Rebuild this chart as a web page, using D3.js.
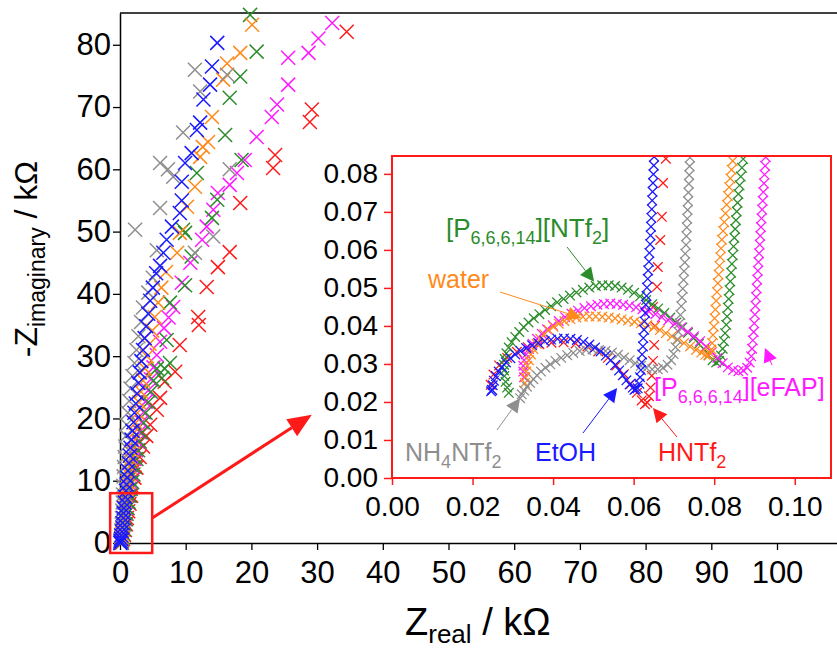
<!DOCTYPE html>
<html>
<head>
<meta charset="utf-8">
<script src="https://cdn.jsdelivr.net/npm/d3@7"></script>
<style>
body { margin: 0; background: #fff; }
text { font-family: "Liberation Sans", Arial, Helvetica, sans-serif; }
</style>
</head>
<body>
<script>
// ---- main plot data, kOhm  [Zreal, -Zimag]
var mainRed = [[0.3,0.05],[0.45,0.6],[0.6,1.3],[0.75,2.1],[0.9,3],[1.05,4],[1.25,5.1],[1.45,6.3],[1.7,7.6],[1.95,9],[2.2,10.5],[2.5,12.1],[3,13.8],[3.5,15.5],[4,17.2],[4.6,19],[5.6,21.4],[6.1,23.3],[6.8,25.9],[8.4,27.5],[9.1,31.8],[11.9,36.3],[12,35],[13.2,41.1],[14.9,44.3],[16.7,46.7],[18.3,54.6],[23.3,60.2],[23.6,62.3],[28.9,67.6],[29.2,69.6],[34.5,82.1]];
var mainMagenta = [[0.15,0.05],[0.2,0.4],[0.3,0.9],[0.4,1.5],[0.5,2.2],[0.6,3],[0.7,3.8],[0.85,4.7],[1,5.6],[1.15,6.6],[1.3,7.6],[1.45,8.7],[1.6,9.8],[1.8,11],[2,12.2],[2.2,13.5],[2.45,14.9],[2.7,16.3],[3,17.8],[3.3,19.4],[3.6,21],[3.9,22.7],[4.3,24.5],[4.7,26.3],[5.1,28.2],[5.6,30.2],[6.1,32.3],[6.7,34.5],[7.4,36.2],[8.1,37.9],[9.4,41.8],[10.7,45],[12.5,48.7],[13.2,50.8],[14.2,53.5],[14.9,56.2],[16.7,57.5],[17.8,59.4],[19,61.5],[20.8,65.2],[23.1,68.4],[23.9,70.4],[25.6,73.6],[25.6,77.9],[28.7,78.7],[30.2,81],[32.3,83.5]];
var mainGreen = [[0.2,0.05],[0.3,0.4],[0.4,0.9],[0.5,1.5],[0.6,2.2],[0.75,3],[0.9,3.8],[1,4.7],[1.15,5.6],[1.3,6.6],[1.5,7.6],[1.65,8.7],[1.85,9.8],[2.05,11],[2.25,12.2],[2.5,13.5],[2.75,14.9],[3,16.3],[3.3,17.7],[3.6,19.3],[3.9,20.9],[4.3,22.6],[4.7,24.3],[5.1,26.1],[5.6,28],[6.4,26.5],[6.8,28],[7.1,32.6],[7.6,28.9],[7.6,38.6],[9.9,41.4],[10.9,46],[9.6,50.3],[9.9,49.8],[14,52.2],[14.8,55.1],[11.7,59.4],[18.5,61.5],[16,65.5],[16.7,71.5],[18.3,74.9],[20.8,78.9],[19.8,84.8]];
var mainOrange = [[0.1,0.05],[0.15,0.4],[0.2,0.9],[0.3,1.5],[0.35,2.2],[0.45,3],[0.5,3.8],[0.6,4.7],[0.7,5.6],[0.8,6.6],[0.9,7.6],[1,8.7],[1.15,9.8],[1.3,11],[1.45,12.2],[1.6,13.5],[1.8,14.9],[2,16.3],[2.2,17.8],[2.4,19.3],[2.65,20.9],[2.9,22.6],[3.2,24.3],[3.5,26.1],[3.8,28],[4.1,30],[4.5,32],[4.9,34.1],[5.3,36.3],[5.8,38.6],[6.3,41],[7,43.5],[8.7,46.6],[9.1,49.8],[10.2,54],[11.4,57.2],[12.2,62],[12.6,63.6],[13.4,64.4],[14,68.4],[15.7,74.4],[16.3,77],[18.3,78.7],[20.1,83.2]];
var mainGray = [[0.05,0.05],[0.1,0.5],[0.15,1.2],[0.2,2],[0.25,3],[0.3,4],[0.35,5.2],[0.4,6.5],[0.45,7.8],[0.5,9.2],[0.55,10.7],[0.6,12.2],[0.7,13.8],[0.8,15.5],[0.9,17.2],[1,19],[1.2,20.9],[1.4,22.8],[1.6,24.8],[1.9,26.8],[2.2,28.9],[2.5,31],[2.8,33.2],[3.2,35.5],[3.5,37.8],[4.3,40.2],[5,42.6],[5.6,47],[6.1,53.8],[6.1,61],[7.3,60],[8.1,58.8],[9.6,65.9],[2.3,50.3],[11.4,76],[12.2,72.5],[11.4,46.6],[14.2,49.2],[16.7,60],[16.3,75.2]];
var mainBlue = [[0.05,0.02],[0.1,0.3],[0.15,0.7],[0.2,1.2],[0.3,1.8],[0.35,2.5],[0.4,3.2],[0.5,4],[0.55,4.8],[0.6,5.6],[0.7,6.5],[0.8,7.4],[0.9,8.4],[1,9.4],[1.1,10.5],[1.2,11.6],[1.35,12.8],[1.5,14],[1.6,15.3],[1.75,16.6],[1.9,18],[2.05,19.4],[2.2,20.9],[2.4,22.4],[2.6,24],[2.8,25.7],[3,27.4],[3.25,29.2],[3.5,31],[3.75,32.9],[4,34.8],[4.3,36.8],[4.6,38.9],[5,41],[5.5,43.3],[6.1,44.5],[6.6,46.6],[7.1,48.7],[7.9,50.8],[9.1,53],[9.4,55],[9.4,58],[9.9,61],[10.9,62.6],[11.7,66.3],[12.2,67.5],[12.7,71.2],[13.7,73.6],[14,76.5],[14.8,80.3]];

// ---- inset data, Ohm
var insetRed = [[24.5,24.5],[25.2,27.2],[26.6,29.6],[28.6,31.6],[31,33.2],[33.7,34.4],[36.6,35.2],[39.6,35.6],[42.6,35.7],[45.6,35.4],[48.5,34.6],[51.2,33.3],[53.6,31.6],[55.7,29.6],[57.6,27.3],[59.3,24.8],[60.8,22.4],[62,20.4],[62.8,19.4],[63.4,19.8],[63.8,21.5],[64.2,23.8],[64.5,26.9],[64.8,30.8],[65.1,35],[65.3,40],[64.8,45],[65.8,50.3],[66,55.5],[66.6,62.6],[67,68.7],[67.3,77.6],[68,84]];
var insetGreen = [[29,22.4],[28.6,23.8],[28.2,25.3],[27.9,26.8],[27.8,28.3],[27.8,29.8],[28,31.3],[28.4,32.8],[29,34.3],[29.7,35.7],[30.6,37.1],[31.6,38.4],[32.7,39.7],[33.9,40.9],[35.2,42],[36.6,43.1],[38,44.2],[39.5,45.2],[41,46.2],[42.6,47.1],[44.2,48],[45.8,48.8],[47.4,49.5],[49,50.1],[50.6,50.5],[52.2,50.7],[53.8,50.7],[55.4,50.5],[57,50.1],[58.6,49.5],[60.1,48.7],[61.6,47.8],[63.1,46.8],[64.6,45.7],[66.1,44.6],[67.6,43.4],[69.1,42.2],[70.6,40.9],[72.1,39.6],[73.5,38.2],[74.9,36.8],[76.2,35.3],[77.5,33.8],[78.6,32.3],[79.6,31],[80.5,30.4],[81.2,30.8],[81.7,32.2],[82.1,34],[82.4,36],[82.7,38.1],[83,40.3],[83.2,42.5],[83.4,44.8],[83.6,47.1],[83.8,49.4],[84,51.7],[84.2,54],[84.4,56.3],[84.6,58.6],[84.8,60.9],[85,63.2],[85.2,65.5],[85.4,67.8],[85.6,70.1],[85.8,72.4],[86,74.7],[86.3,77],[86.6,79.3],[86.9,81.6],[87.2,83.9]];
var insetMagenta = [[32.8,26.5],[32.6,28],[32.6,29.5],[32.8,31],[33.3,32.5],[34,33.9],[34.9,35.3],[36,36.6],[37.2,37.9],[38.5,39.1],[39.9,40.2],[41.4,41.3],[43,42.3],[44.6,43.2],[46.2,44],[47.8,44.7],[49.4,45.2],[51,45.6],[52.6,45.8],[54.2,45.9],[55.8,45.8],[57.4,45.6],[59,45.3],[60.6,44.9],[62.2,44.4],[63.8,43.8],[65.4,43.1],[67,42.3],[68.6,41.5],[70.2,40.6],[71.8,39.6],[73.4,38.5],[75,37.3],[76.5,36],[78,34.6],[79.4,33.1],[80.8,31.6],[82.1,30.2],[83.4,29.1],[84.7,28.4],[86,28.1],[87.2,28.3],[88.2,29],[88.8,30.4],[89.2,32],[89.4,34],[89.6,36.2],[89.8,38.4],[89.95,40.7],[90.1,43],[90.25,45.3],[90.4,47.6],[90.55,49.9],[90.7,52.2],[90.85,54.5],[91,56.8],[91.15,59.1],[91.3,61.4],[91.45,63.7],[91.6,66],[91.75,68.3],[91.9,70.6],[92.05,72.9],[92.2,75.2],[92.35,77.5],[92.5,79.8],[92.65,82.1],[92.8,84.4]];
var insetOrange = [[33,25],[33.1,26.5],[33.3,28],[33.6,29.5],[34,31],[34.5,32.5],[35.1,33.9],[35.9,35.3],[36.8,36.6],[37.8,37.8],[38.9,38.9],[40.1,39.8],[41.4,40.6],[42.8,41.3],[44.3,41.8],[45.8,42.2],[47.4,42.4],[49,42.5],[50.6,42.5],[52.2,42.4],[53.8,42.2],[55.4,42],[57,41.7],[58.6,41.4],[60.2,41.1],[61.8,40.7],[63.4,40.2],[65,39.6],[66.5,38.9],[68,38.1],[69.5,37.3],[71,36.4],[72.5,35.5],[74,34.6],[75.5,33.7],[76.8,33],[77.8,32.4],[78.6,32.2],[79,32.8],[79.3,33.8],[79.5,35.5],[79.7,37.6],[79.9,39.8],[80.1,42],[80.3,44.3],[80.5,46.6],[80.7,48.9],[80.9,51.2],[81.1,53.5],[81.3,55.8],[81.5,58.1],[81.7,60.4],[81.9,62.7],[82.2,65],[82.5,67.3],[82.8,69.6],[83.1,71.9],[83.4,74.2],[83.7,76.5],[84,78.8],[84.3,81.1],[84.6,83.4]];
var insetGray = [[31.8,21],[32.2,22],[32.8,23],[33.5,24],[34.3,25],[35.1,26],[36,27],[37,28],[38.1,29],[39.3,29.9],[40.6,30.8],[42,31.6],[43.5,32.3],[45,32.9],[46.6,33.4],[48.2,33.7],[49.8,33.8],[51.4,33.7],[53,33.4],[54.6,33],[56.1,32.4],[57.6,31.7],[59,31],[60.4,30.2],[61.8,29.5],[63.2,28.9],[64.6,28.6],[66,28.6],[67.3,29],[68.4,29.8],[69.3,31],[69.9,32.6],[70.4,34.4],[70.8,36.4],[71.1,38.5],[71.4,40.7],[71.6,42.9],[71.8,45.2],[72,47.5],[72.2,49.8],[72.4,52.1],[72.5,54.4],[72.7,56.7],[72.8,59],[73,61.3],[73.1,63.6],[73.2,65.9],[73.3,68.2],[73.4,70.5],[73.5,72.8],[73.6,75.1],[73.7,77.4],[73.8,79.7],[73.9,82],[74,84.3]];
var insetBlue = [[24.6,22.8],[24.9,23.1],[24.8,23.2],[25,24.4],[25.3,25.6],[25.8,26.8],[26.5,28],[27.3,29.2],[28.3,30.4],[29.4,31.5],[30.6,32.5],[31.9,33.4],[33.3,34.2],[34.8,34.9],[36.3,35.5],[37.9,36],[39.5,36.4],[41.1,36.6],[42.7,36.7],[44.3,36.6],[45.9,36.3],[47.5,35.8],[49,35.1],[50.4,34.3],[51.8,33.3],[53.1,32.2],[54.3,31],[55.4,29.7],[56.4,28.3],[57.3,27],[58.2,25.7],[59,24.6],[59.8,23.8],[60.2,23.2],[60.5,23.4],[61,23.6],[61.4,24.8],[61.6,26.5],[61.8,28.4],[62,30.4],[62.1,32.5],[62.3,34.6],[62.4,36.8],[62.6,39],[62.7,41.2],[62.9,43.4],[63,45.6],[63.2,47.9],[63.3,50.1],[63.5,52.4],[63.6,54.6],[63.8,56.9],[63.9,59.2],[64.1,61.5],[64.2,63.8],[64.3,66.1],[64.4,68.4],[64.5,70.7],[64.6,73],[64.7,75.3],[64.8,77.6],[64.9,79.9],[65,82.2],[65.1,84.5]];

var colors = { red: "#ff1a1a", magenta: "#ff1aff", green: "#2b8c2b", orange: "#ff8a1c", gray: "#8e8e8e", blue: "#1a1aff" };

var mainTicksX = [0,10,20,30,40,50,60,70,80,90,100];
var mainTicksY = [0,10,20,30,40,50,60,70,80];
var insetTicksX = [0,0.02,0.04,0.06,0.08,0.10];
var insetTicksY = [0,0.01,0.02,0.03,0.04,0.05,0.06,0.07,0.08];

var width = 837;
var height = 650;

var svg = d3.select("body")
    .append("svg")
    .attr("width", width)
    .attr("height", height);

// ----- main axes
var x = d3.scaleLinear().domain([0, 110]).range([120, 842.7]);
var y = d3.scaleLinear().domain([0, 85.1]).range([543, 13]);

var minorX = d3.range(0, 111, 2);
var minorY = d3.range(0, 85, 2);

var gx = svg.append("g").attr("transform", "translate(0,543)");
gx.call(d3.axisBottom(x).tickValues(minorX).tickSize(4).tickSizeOuter(0).tickFormat(""));
gx.call(d3.axisBottom(x).tickValues(mainTicksX).tickSize(7).tickSizeOuter(0).tickPadding(11).tickFormat(d3.format("d")));

var gy = svg.append("g").attr("transform", "translate(120,0)");
gy.call(d3.axisLeft(y).tickValues(minorY).tickSize(4).tickSizeOuter(0).tickFormat(""));
gy.call(d3.axisLeft(y).tickValues(mainTicksY).tickSize(7).tickSizeOuter(0).tickPadding(2).tickFormat(d3.format("d")));

svg.selectAll(".domain").attr("stroke", "#000").attr("stroke-width", 1.5);
svg.selectAll(".tick line").attr("stroke", "#000").attr("stroke-width", 1.3);
svg.selectAll(".tick text").attr("font-size", 31).attr("fill", "#000")
    .attr("font-family", "Liberation Sans, Arial, sans-serif");

// top border
svg.append("line").attr("x1", 120).attr("x2", width).attr("y1", 13).attr("y2", 13)
    .attr("stroke", "#000").attr("stroke-width", 1.5);

function cross(s) {
    return "M" + (-s) + "," + (-s) + "L" + s + "," + s + "M" + (-s) + "," + s + "L" + s + "," + (-s);
}

var mainSeries = [
    [mainRed, colors.red], [mainMagenta, colors.magenta], [mainGreen, colors.green],
    [mainOrange, colors.orange], [mainGray, colors.gray], [mainBlue, colors.blue]
];

mainSeries.forEach(function(s) {
    svg.append("g").selectAll("path")
        .data(s[0]).enter().append("path")
        .attr("d", cross(7))
        .attr("transform", function(d) { return "translate(" + x(d[0]) + "," + y(d[1]) + ")"; })
        .attr("fill", "none")
        .attr("stroke", s[1])
        .attr("stroke-width", 1.5);
});

// axis titles
function subText(g, parts, size, subSize, shift) {
    var t = g.append("text").attr("font-size", size);
    var prevSub = false;
    parts.forEach(function(p) {
        var ts = t.append("tspan").text(p[0]);
        if (p[1]) {
            ts.attr("font-size", subSize).attr("dy", shift);
            prevSub = true;
        } else if (prevSub) {
            ts.attr("dy", -shift);
            prevSub = false;
        }
    });
    return t;
}

subText(svg, [["Z", 0], ["real", 1], [" / k\u03A9", 0]], 38, 26, 8)
    .attr("x", 405).attr("y", 635).attr("fill", "#000");

subText(svg, [["-Z", 0], ["imaginary", 1], [" / k\u03A9", 0]], 32, 23, 8)
    .attr("text-anchor", "middle")
    .attr("transform", "translate(37,259) rotate(-90)")
    .attr("fill", "#000");

// zoom box + arrow
svg.append("rect")
    .attr("x", x(-1.5)).attr("y", y(8.0))
    .attr("width", x(4.9) - x(-1.5)).attr("height", y(-1.6) - y(8.0))
    .attr("fill", "none").attr("stroke", "#ff1a1a").attr("stroke-width", 2.5);

function arrow(g, x1, y1, x2, y2, color, len, half, sw) {
    var ang = Math.atan2(y2 - y1, x2 - x1);
    var bx = x2 - len * Math.cos(ang), by = y2 - len * Math.sin(ang);
    g.append("line").attr("x1", x1).attr("y1", y1).attr("x2", bx).attr("y2", by)
        .attr("stroke", color).attr("stroke-width", sw);
    var px = -Math.sin(ang) * half, py = Math.cos(ang) * half;
    g.append("path")
        .attr("d", "M" + x2 + "," + y2 + "L" + (bx + px) + "," + (by + py) + "L" + (bx - px) + "," + (by - py) + "Z")
        .attr("fill", color);
}

arrow(svg, x(4.9), y(4.0), x(29.2), y(20.6), "#ff1a1a", 24, 10, 3);

// ----- inset
var ix = d3.scaleLinear().domain([0, 109]).range([392, 831]);
var iy = d3.scaleLinear().domain([0, 84.7]).range([478, 156]);

var inset = svg.append("g");
inset.append("rect").attr("x", 392).attr("y", 156).attr("width", 831 - 392).attr("height", 478 - 156)
    .attr("fill", "#fff");

svg.append("defs").append("clipPath").attr("id", "clipInset")
    .append("rect").attr("x", 392).attr("y", 156).attr("width", 831 - 392).attr("height", 478 - 156);

var insetSeries = [
    [insetRed, colors.red], [insetGreen, colors.green], [insetMagenta, colors.magenta],
    [insetOrange, colors.orange], [insetGray, colors.gray], [insetBlue, colors.blue]
];

var marks = inset.append("g").attr("clip-path", "url(#clipInset)");
insetSeries.forEach(function(s) {
    marks.append("g").selectAll("path")
        .data(s[0]).enter().append("path")
        .attr("d", cross(4.8))
        .attr("transform", function(d) { return "translate(" + ix(d[0]) + "," + iy(d[1]) + ")"; })
        .attr("fill", "none")
        .attr("stroke", s[1])
        .attr("stroke-width", 1.25);
});

var ixAxis = inset.append("g").attr("transform", "translate(0,478)");
ixAxis.call(d3.axisBottom(ix).tickValues(d3.range(0, 109, 5)).tickSize(7).tickSizeOuter(0).tickFormat(""));
ixAxis.call(d3.axisBottom(ix).tickValues(insetTicksX.map(function(d) { return d * 1000; }))
    .tickSize(7).tickSizeOuter(0).tickPadding(11)
    .tickFormat(function(d) { return (d / 1000).toFixed(2); }));

var iyAxis = inset.append("g").attr("transform", "translate(392,0)");
iyAxis.call(d3.axisLeft(iy).tickValues(d3.range(0, 85, 5)).tickSize(5).tickSizeOuter(0).tickFormat(""));
iyAxis.call(d3.axisLeft(iy).tickValues(insetTicksY.map(function(d) { return d * 1000; }))
    .tickSize(8).tickSizeOuter(0).tickPadding(6)
    .tickFormat(function(d) { return (d / 1000).toFixed(2); }));

inset.selectAll(".domain").remove();
inset.selectAll(".tick line").attr("stroke", "#ff1a1a").attr("stroke-width", 1.5);
inset.selectAll(".tick text").attr("font-size", 28).attr("fill", "#000")
    .attr("font-family", "Liberation Sans, Arial, sans-serif");

inset.append("rect").attr("x", 392).attr("y", 156).attr("width", 831 - 392).attr("height", 478 - 156)
    .attr("fill", "none").attr("stroke", "#ff1a1a").attr("stroke-width", 2);

// annotations
var ann = inset.append("g");
arrow(ann, 567, 247, ix(50.2), iy(51.6), colors.green, 14, 7, 1);
arrow(ann, 500, 292, ix(47), iy(42.1), colors.orange, 14, 7, 1);
arrow(ann, 497, 430, ix(31.8), iy(21), colors.gray, 14, 7, 1);
arrow(ann, 583, 433, ix(55.9), iy(23.7), colors.blue, 14, 7, 1);
arrow(ann, 677, 437, ix(64.8), iy(18.4), colors.red, 14, 7, 1);
arrow(ann, 772, 365, ix(92.6), iy(34.2), colors.magenta, 14, 7, 1);

subText(ann, [["[P", 0], ["6,6,6,14", 1], ["][NTf", 0], ["2", 1], ["]", 0]], 26, 18, 7)
    .attr("x", 446).attr("y", 237).attr("fill", "#2b8c2b");
subText(ann, [["water", 0]], 25, 18, 0)
    .attr("x", 428).attr("y", 288).attr("fill", "#ff8a1c");
subText(ann, [["NH", 0], ["4", 1], ["NTf", 0], ["2", 1]], 25, 18, 7)
    .attr("x", 405).attr("y", 461).attr("fill", "#8e8e8e");
subText(ann, [["EtOH", 0]], 25, 18, 0)
    .attr("x", 535).attr("y", 461).attr("fill", "#1a1aff");
subText(ann, [["HNTf", 0], ["2", 1]], 25, 18, 7)
    .attr("x", 658).attr("y", 461).attr("fill", "#ff1a1a");
subText(ann, [["[P", 0], ["6,6,6,14", 1], ["][eFAP]", 0]], 25, 18, 7)
    .attr("x", 654).attr("y", 396).attr("fill", "#ff1aff");
</script>
</body>
</html>
